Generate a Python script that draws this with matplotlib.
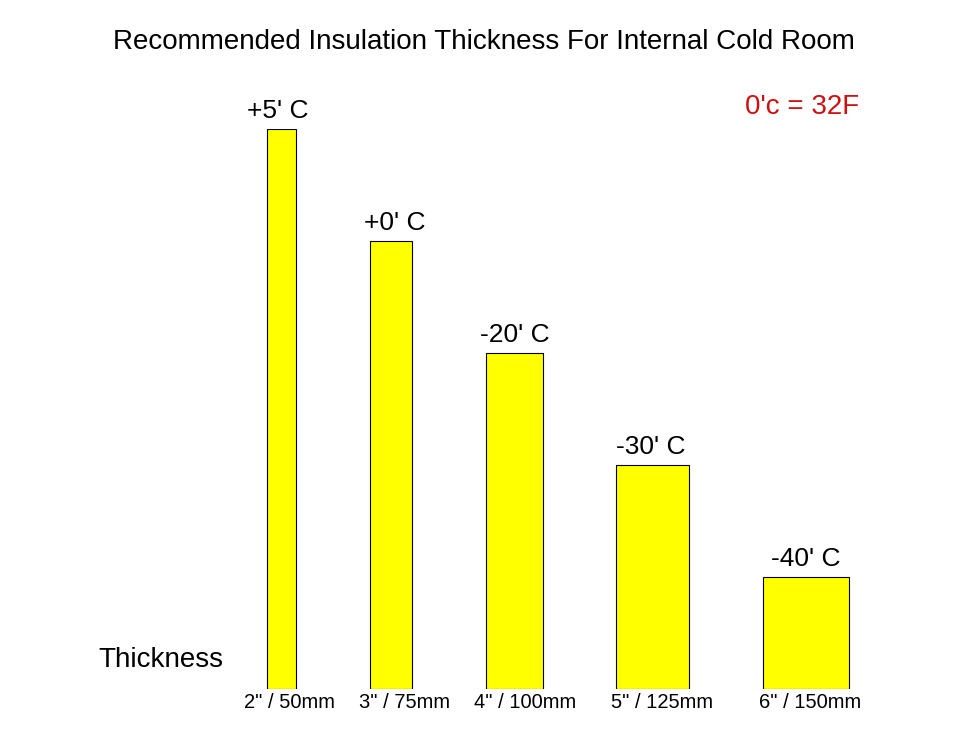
import matplotlib
matplotlib.use("Agg")
import matplotlib.pyplot as plt

plt.rcParams['font.family'] = ['Liberation Sans', 'DejaVu Sans']

thickness = ['2" / 50mm', '3" / 75mm', '4" / 100mm', '5" / 125mm', '6" / 150mm']
temps = ["+5' C", "+0' C", "-20' C", "-30' C", "-40' C"]
heights = [5, 4, 3, 2, 1]

# layout (pixel positions of bar centres and widths)
centers = [281.5, 391, 514.5, 652.5, 806]
widths = [29, 42, 57, 73, 86]
temp_x = [278, 395, 515, 651, 806]
label_x = [289, 405, 525, 662, 810]

fig = plt.figure(figsize=(9.6, 7.4), dpi=100)
y0 = 1 - 689 / 740
ax = fig.add_axes([0, y0, 1, 560 / 740])
ax.set_xlim(0, 960)
ax.set_ylim(0, 5)
ax.axis('off')

ax.bar(centers, heights, width=widths, color='#ffff00', edgecolor='black', linewidth=0.8)
for x, h, t in zip(temp_x, heights, temps):
    ax.text(x, h + 0.05, t, ha='center', va='bottom', fontsize=19)
for x, lab in zip(label_x, thickness):
    fig.text(x / 960, 1 - 703 / 740, lab, ha='center', va='center', fontsize=14.5)

fig.text(484 / 960, 1 - 42 / 740, 'Recommended Insulation Thickness For Internal Cold Room',
         ha='center', va='center', fontsize=20)
fig.text(98 / 960, 1 - 660 / 740, 'Thickness', ha='left', va='center', fontsize=20)
fig.text(802 / 960, 1 - 107 / 740, "0'c = 32F", ha='center', va='center', fontsize=20, color='#d01010')

fig.savefig('out.png', dpi=100, facecolor='white')
